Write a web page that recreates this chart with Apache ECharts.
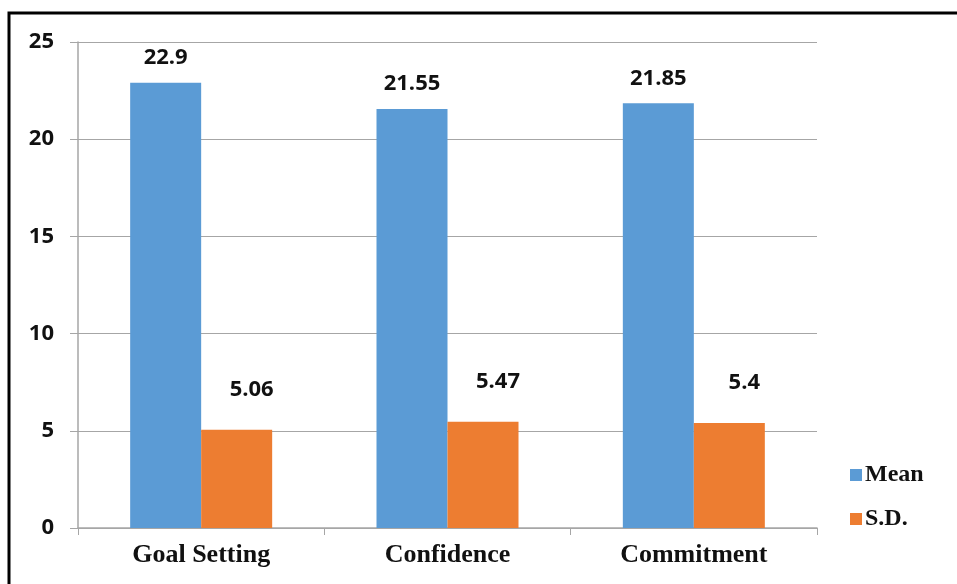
<!DOCTYPE html>
<html>
<head>
<meta charset="utf-8">
<script src="https://cdn.jsdelivr.net/npm/echarts@6/dist/echarts.min.js"></script>
<style>
  html, body { margin: 0; padding: 0; background: #fff; }
  #myChart { width: 957px; height: 584px; }
</style>
</head>
<body>
<div id="myChart"></div>
<script>
const categories = ["Goal Setting", "Confidence", "Commitment"];
const meanValues = [22.9, 21.55, 21.85];
const sdValues = [5.06, 5.47, 5.4];
const legendNames = ["Mean", "S.D."];

const labelFont = "'Open Sans', 'DejaVu Sans', sans-serif";
const serifFont = "'Liberation Serif', 'DejaVu Serif', serif";

let myChart = echarts.init(document.getElementById("myChart"));
myChart.setOption({
  animation: false,
  graphic: [{
    type: "rect",
    shape: { x: 9, y: 13, width: 960, height: 590 },
    style: { fill: "none", stroke: "#000", lineWidth: 3 }
  }],
  legend: {
    orient: "vertical",
    left: 845,
    top: 458,
    itemWidth: 12,
    itemHeight: 12,
    itemGap: 20,
    icon: "rect",
    textStyle: { fontFamily: serifFont, fontWeight: "bold", fontSize: 24, color: "#111", padding: [0, 0, 0, -2] },
    data: legendNames
  },
  grid: { left: 78, right: 140, top: 42, bottom: 56, containLabel: false },
  xAxis: {
    type: "category",
    data: categories,
    axisLine: { lineStyle: { color: "#a6a6a6", width: 1.5 } },
    axisTick: { show: true, length: 7, lineStyle: { color: "#a6a6a6" } },
    axisLabel: { fontFamily: serifFont, fontWeight: "bold", fontSize: 26, color: "#111", margin: 14 }
  },
  yAxis: {
    type: "value",
    min: 0,
    max: 25,
    interval: 5,
    axisLine: { show: true, lineStyle: { color: "#a6a6a6", width: 1.5 } },
    axisTick: { show: true, length: 8, lineStyle: { color: "#a6a6a6" } },
    splitLine: { lineStyle: { color: "#a6a6a6", width: 1.2 } },
    axisLabel: { fontFamily: labelFont, fontWeight: "bold", fontSize: 22, color: "#111", margin: 24 }
  },
  series: [
    {
      name: legendNames[0],
      type: "bar",
      data: meanValues,
      barWidth: 71,
      barGap: "0%",
      itemStyle: { color: "#5B9BD5" },
      label: {
        show: true, position: "top", distance: 14,
        fontFamily: labelFont, fontWeight: "bold", fontSize: 22, color: "#111"
      }
    },
    {
      name: legendNames[1],
      type: "bar",
      data: sdValues,
      barWidth: 71,
      barGap: "0%",
      itemStyle: { color: "#ED7D31" },
      label: {
        show: true, position: "top", distance: 29, offset: [15, 0],
        fontFamily: labelFont, fontWeight: "bold", fontSize: 22, color: "#111"
      }
    }
  ]
});
</script>
</body>
</html>
